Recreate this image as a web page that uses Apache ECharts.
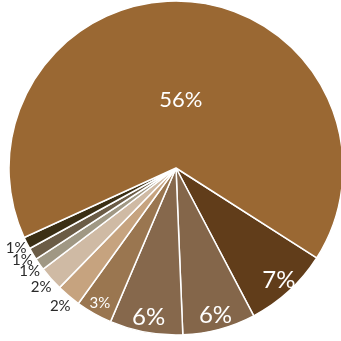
<!DOCTYPE html>
<html>
<head>
<meta charset="utf-8">
<script src="https://cdn.jsdelivr.net/npm/echarts@6/dist/echarts.min.js"></script>
<style>
  html, body { margin: 0; padding: 0; background: #ffffff; }
  #chart { width: 341px; height: 341px; }
</style>
</head>
<body>
<div id="chart"></div>
<script>
// Shares in percent, listed clockwise starting after the large slice
const categories = ['B', 'C', 'D', 'E', 'F', 'G', 'H', 'I', 'J', 'A'];
const shares = [7, 6, 6, 3, 2, 2, 1, 1, 1, 56];

// Slice colours, same order as the shares
const sliceColors = ['#613D1A', '#84664A', '#86684C', '#9A7650', '#C6A37F',
                     '#CFBAA4', '#A09884', '#6B5C46', '#3B2F15', '#9A6833'];

// Pie geometry (pixels)
const CX = 176, CY = 168, R = 167;

// Label styling: inside labels sit near the rim, small slices get outside labels
const labelFontSize = [24, 24, 24, 15, 15, 15, 15, 15, 15, 22];
const labelRadius   = [152, 152, 152, 155, 180, 180, 179, 179, 179, 68];
const labelOutside  = [false, false, false, false, true, true, true, true, true, false];

const chart = echarts.init(document.getElementById('chart'), null, { renderer: 'canvas' });

chart.setOption({
  animation: false,
  backgroundColor: '#ffffff',
  series: [{
    type: 'pie',
    center: [CX, CY],
    radius: [0, R],
    startAngle: -32.6,
    clockwise: true,
    avoidLabelOverlap: false,
    minShowLabelAngle: 0,
    itemStyle: { borderColor: '#ffffff', borderWidth: 1.5 },
    label: {
      show: true,
      position: 'inside',
      fontFamily: 'Lato, "Open Sans", sans-serif',
      formatter: p => p.value + '%'
    },
    labelLine: { show: false },
    labelLayout: function (p) {
      const r = p.labelRect;
      const lx = r.x + r.width / 2, ly = r.y + r.height / 2;
      const ang = Math.atan2(ly - CY, lx - CX);
      const d = labelRadius[p.dataIndex];
      return {
        x: CX + d * Math.cos(ang),
        y: CY + d * Math.sin(ang),
        align: 'center',
        verticalAlign: 'middle'
      };
    },
    emphasis: { disabled: true },
    data: shares.map((v, i) => ({
      name: categories[i],
      value: v,
      itemStyle: { color: sliceColors[i] },
      label: {
        fontSize: labelFontSize[i],
        color: labelOutside[i] ? '#2a2a2a' : '#ffffff'
      }
    }))
  }]
});
</script>
</body>
</html>
